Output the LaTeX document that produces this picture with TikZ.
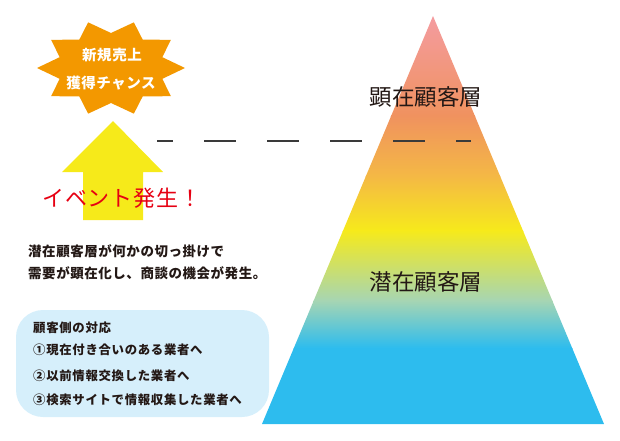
\documentclass[tikz,border=0pt]{standalone}
\usepackage{fontspec}
\newfontfamily\jp{Noto Sans CJK JP}
\newfontfamily\jpwide[LetterSpace=4]{Noto Sans CJK JP}
\newfontfamily\jpwider[LetterSpace=5.5]{Noto Sans CJK JP}
\definecolor{starorange}{HTML}{F39800}
\definecolor{arrowyellow}{HTML}{F6EA1A}
\definecolor{eventred}{HTML}{E60012}
\definecolor{inkdark}{HTML}{231815}
\definecolor{boxblue}{HTML}{D6EFFB}
\definecolor{dashgray}{HTML}{3A3A3A}
\definecolor{gA}{HTML}{F49CA1}
\definecolor{gB}{HTML}{F0925F}
\definecolor{gC}{HTML}{F4B845}
\definecolor{gD}{HTML}{F6EA1B}
\definecolor{gE}{HTML}{A6D5B3}
\definecolor{gF}{HTML}{2DBCEE}
\tikzset{
  txt/.style={inner sep=0pt, text=inkdark},
  startxt/.style={inner sep=0pt, text=white, font=\jpwide\bfseries\fontsize{14.5}{16}\selectfont},
  bodytxt/.style={txt, anchor=west, font=\jpwide\bfseries\fontsize{13.5}{16}\selectfont},
  boxtxt/.style={txt, anchor=west, font=\jpwider\bfseries\fontsize{12.4}{15}\selectfont},
  layertxt/.style={txt, font=\jp\fontsize{22.5}{26}\selectfont},
}
\begin{document}
\begin{tikzpicture}[x=1pt,y=-1pt]
\useasboundingbox (0,0) rectangle (620,440);
% info box
\fill[boxblue, rounded corners=27pt] (16,310) rectangle (269,417);
% pyramid
\begin{scope}
\clip (433,16) -- (604,424) -- (262,424) -- cycle;
\shade[top color=gA, bottom color=gB] (250,14) rectangle (620,116);
\shade[top color=gB, bottom color=gC] (250,115.5) rectangle (620,176);
\shade[top color=gC, bottom color=gD] (250,175.5) rectangle (620,231);
\shade[top color=gD, bottom color=gE] (250,230.5) rectangle (620,301);
\shade[top color=gE, bottom color=gF] (250,300.5) rectangle (620,348);
\fill[gF] (250,347.5) rectangle (620,430);
\end{scope}
% dashed boundary
\coordinate (dl) at (157,141);
\coordinate (dr) at (471,141);
\draw[dashgray, line width=1.1pt, dash pattern=on 32pt off 31pt, dash phase=16pt] (dl) -- (dr);
% star burst
\fill[starorange] (185,68) \foreach \a in {18,54,...,342} { -- ({111+54*cos(\a)},{68-35*sin(\a)}) -- ({111+74*cos(\a+18)},{68-48*sin(\a+18)}) } -- cycle;
\node[startxt] (s1) at (112,55) {新規売上};
\node[startxt] (s2) at (111,83) {獲得チャンス};
% arrow
\fill[arrowyellow] (113,121) -- (163,172) -- (143,172) -- (143,220) -- (83,220) -- (83,172) -- (62,172) -- cycle;
\node[inner sep=0pt, anchor=west, text=eventred, font=\jpwide\fontsize{22}{24}\selectfont] (event) at (42,198) {イベント発生！};
% description
\node[bodytxt] (p1) at (28,251) {潜在顧客層が何かの切っ掛けで};
\node[bodytxt] (p2) at (28,273) {需要が顕在化し、商談の機会が発生。};
% box text
\node[boxtxt] (b0) at (33,328) {顧客側の対応};
\node[boxtxt] (b1) at (33,350) {①現在付き合いのある業者へ};
\node[boxtxt] (b2) at (33,376) {②以前情報交換した業者へ};
\node[boxtxt] (b3) at (33,400) {③検索サイトで情報収集した業者へ};
% layer labels
\node[layertxt] (top) at (426,97) {顕在顧客層};
\node[layertxt] (bottom) at (426,282) {潜在顧客層};
\end{tikzpicture}
\end{document}
